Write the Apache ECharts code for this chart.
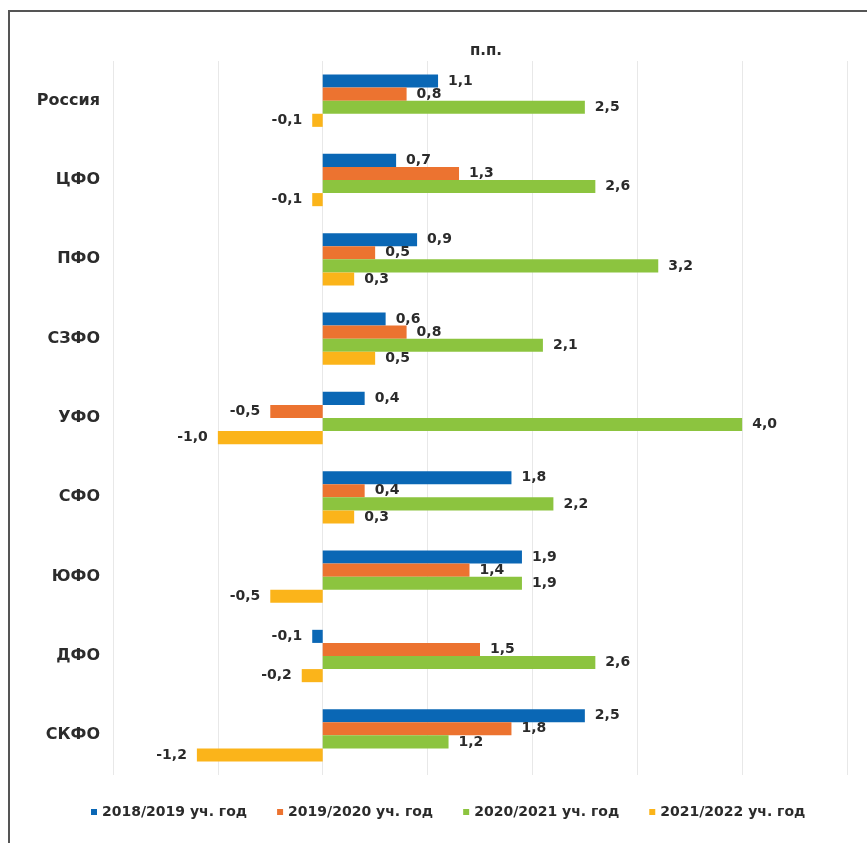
<!DOCTYPE html>
<html>
<head>
<meta charset="utf-8">
<script src="https://cdn.jsdelivr.net/npm/echarts@6/dist/echarts.min.js"></script>
<style>
html,body{margin:0;padding:0;background:#fff;}
#frame{position:absolute;left:8px;top:10px;width:870px;height:840px;border-left:2px solid #555;border-top:2px solid #555;box-sizing:border-box;}
#chart{position:absolute;left:0;top:0;width:867px;height:843px;}
</style>
</head>
<body>
<div id="frame"></div>
<div id="chart"></div>
<script>
const categories = ['Россия','ЦФО','ПФО','СЗФО','УФО','СФО','ЮФО','ДФО','СКФО'];
const seriesNames = ['2018/2019 уч. год','2019/2020 уч. год','2020/2021 уч. год','2021/2022 уч. год'];
const s2018 = [1.1, 0.7, 0.9, 0.6, 0.4, 1.8, 1.9, -0.1, 2.5];
const s2019 = [0.8, 1.3, 0.5, 0.8, -0.5, 0.4, 1.4, 1.5, 1.8];
const s2020 = [2.5, 2.6, 3.2, 2.1, 4.0, 2.2, 1.9, 2.6, 1.2];
const s2021 = [-0.1, -0.1, 0.3, 0.5, -1.0, 0.3, -0.5, -0.2, -1.2];
const colors = ['#0a67b5','#ec7330','#8cc43f','#fbb41a'];
const unitTitle = 'п.п.';

const chart = echarts.init(document.getElementById('chart'), null, {renderer:'canvas'});
const font = 'DejaVu Sans, Verdana, sans-serif';
function mk(name, data, color){
  return {
    name: name,
    type: 'bar',
    data: data.map(v => ({
      value: v,
      label: {position: v < 0 ? 'left' : 'right'}
    })),
    itemStyle: {color: color},
    barGap: '0%',
    barCategoryGap: '34%',
    label: {
      show: true,
      distance: 10,
      fontFamily: font,
      fontWeight: 'bold',
      fontSize: 14,
      color: '#2b2b2b',
      formatter: p => p.value.toFixed(1).replace('.', ',')
    }
  };
}
chart.setOption({
  animation: false,
  backgroundColor: 'transparent',
  title: {
    text: unitTitle,
    left: 481, top: 39,
    textAlign: 'center',
    textStyle: {fontFamily: font, fontWeight: 'bold', fontSize: 15, color: '#2b2b2b'}
  },
  grid: {left: 113, right: 20, top: 61, bottom: 68, containLabel: false},
  xAxis: {
    type: 'value', min: -2, max: 5, interval: 1,
    axisLabel: {show: false},
    axisLine: {show: false}, axisTick: {show: false},
    splitLine: {show: true, lineStyle: {color: '#e8e8e8', width: 1}}
  },
  yAxis: {
    type: 'category', data: categories, inverse: true,
    axisLine: {show: false}, axisTick: {show: false},
    axisLabel: {fontFamily: font, fontWeight: 'bold', fontSize: 16, color: '#2b2b2b', margin: 13}
  },
  legend: {
    bottom: 19, left: 86,
    icon: 'rect', itemWidth: 6, itemHeight: 6, itemGap: 30,
    textStyle: {fontFamily: font, fontWeight: 'bold', fontSize: 14, color: '#2b2b2b'},
    data: seriesNames
  },
  series: [
    mk(seriesNames[0], s2018, colors[0]),
    mk(seriesNames[1], s2019, colors[1]),
    mk(seriesNames[2], s2020, colors[2]),
    mk(seriesNames[3], s2021, colors[3])
  ]
});
</script>
</body>
</html>
